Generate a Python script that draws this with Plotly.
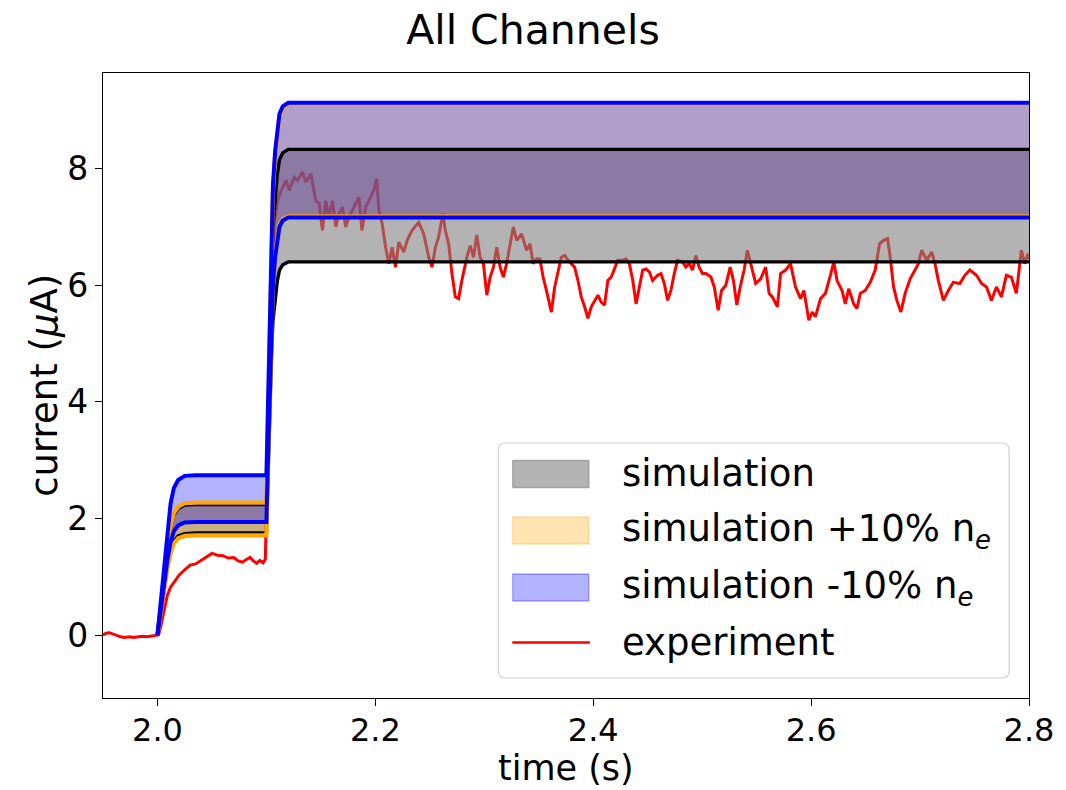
import plotly.graph_objects as go

# ---------------------------------------------------------------- data
# simulated channel current (uA) on a common time base (s)
t_sim = [2.000, 2.003, 2.006, 2.009, 2.012, 2.015, 2.019, 2.025, 2.035, 2.100,
         2.101, 2.102, 2.103, 2.104, 2.105, 2.106, 2.108, 2.110, 2.112, 2.115,
         2.120, 2.800]

sim_lo = [0.00, 0.385, 0.79, 1.155, 1.435, 1.61, 1.70, 1.74, 1.75, 1.75,
          2.45, 3.15, 3.80, 4.45, 5.00, 5.38, 5.80, 6.07, 6.26, 6.35, 6.40, 6.40]
sim_hi = [0.00, 0.49, 1.01, 1.48, 1.84, 2.06, 2.17, 2.23, 2.24, 2.24,
          3.15, 4.07, 4.92, 5.77, 6.50, 6.99, 7.54, 7.90, 8.15, 8.27, 8.33, 8.33]

plus_lo = [0.00, 0.38, 0.77, 1.13, 1.40, 1.57, 1.66, 1.70, 1.71, 1.71,
           2.53, 3.36, 4.13, 4.89, 5.55, 5.99, 6.49, 6.82, 7.03, 7.14, 7.18, 7.18]
plus_hi = [0.00, 0.50, 1.02, 1.50, 1.86, 2.09, 2.20, 2.26, 2.27, 2.27,
           3.30, 4.32, 5.28, 6.24, 7.06, 7.61, 8.22, 8.63, 8.90, 9.04, 9.11, 9.11]

minus_lo = [0.00, 0.43, 0.87, 1.28, 1.59, 1.78, 1.88, 1.93, 1.94, 1.94,
            2.72, 3.51, 4.24, 4.97, 5.59, 6.01, 6.48, 6.79, 7.00, 7.11, 7.16, 7.16]
minus_hi = [0.00, 0.60, 1.23, 1.81, 2.25, 2.52, 2.66, 2.73, 2.74, 2.74,
            3.70, 4.66, 5.55, 6.45, 7.21, 7.72, 8.30, 8.68, 8.94, 9.07, 9.13, 9.13]

# measured current (uA)
t_exp = [1.950, 1.953, 1.956, 1.959, 1.962, 1.966, 1.970, 1.974, 1.978, 1.982,
         1.986, 1.990, 1.994, 1.998, 2.001, 2.003, 2.006, 2.009, 2.012, 2.016,
         2.020, 2.025, 2.030, 2.035, 2.040, 2.045, 2.050, 2.055, 2.060, 2.065,
         2.070, 2.074, 2.078, 2.082, 2.085, 2.088, 2.091, 2.094, 2.097, 2.099,
         2.1005, 2.102, 2.1035, 2.105, 2.1073, 2.1103, 2.113, 2.1180, 2.1210, 2.1256,
         2.1286, 2.1331, 2.1362, 2.1408, 2.1454, 2.1484, 2.1514, 2.1545, 2.1575, 2.1606,
         2.1637, 2.1667, 2.1697, 2.1728, 2.1758, 2.1820, 2.1850, 2.1877, 2.1911, 2.1941,
         2.1987, 2.2012, 2.2033, 2.2063, 2.2094, 2.2124, 2.2154, 2.2185, 2.2215, 2.2261,
         2.2292, 2.2337, 2.2398, 2.2444, 2.2490, 2.2520, 2.2551, 2.2581, 2.2621, 2.2642,
         2.2673, 2.2703, 2.2734, 2.2764, 2.2794, 2.2840, 2.2871, 2.2901, 2.2931, 2.2962,
         2.2992, 2.3023, 2.3054, 2.3084, 2.3114, 2.3145, 2.3175, 2.3205, 2.3236, 2.3266,
         2.3297, 2.3342, 2.3388, 2.3419, 2.3449, 2.3479, 2.3510, 2.3540, 2.3570, 2.3601,
         2.3616, 2.3646, 2.3677, 2.3707, 2.3738, 2.3768, 2.3799, 2.3829, 2.3860, 2.3890,
         2.3921, 2.3951, 2.3982, 2.4012, 2.4043, 2.4073, 2.4104, 2.4134, 2.4165, 2.4195,
         2.4225, 2.4271, 2.4302, 2.4332, 2.4363, 2.4393, 2.4424, 2.4454, 2.4485, 2.4515,
         2.4545, 2.4591, 2.4622, 2.4652, 2.4683, 2.4713, 2.4744, 2.4774, 2.4820, 2.4850,
         2.4881, 2.4911, 2.4942, 2.4972, 2.5003, 2.5034, 2.5080, 2.5111, 2.5147, 2.5178,
         2.5217, 2.5257, 2.5287, 2.5318, 2.5349, 2.5385, 2.5415, 2.5446, 2.5491, 2.5537,
         2.5583, 2.5614, 2.5644, 2.5690, 2.5720, 2.5766, 2.5811, 2.5857, 2.5903, 2.5934,
         2.5979, 2.6010, 2.6040, 2.6086, 2.6131, 2.6177, 2.6208, 2.6238, 2.6284, 2.6314,
         2.6345, 2.6391, 2.6421, 2.6451, 2.6497, 2.6543, 2.6588, 2.6628, 2.6665, 2.6702,
         2.6726, 2.6757, 2.6787, 2.6824, 2.6863, 2.6909, 2.6954, 2.6985, 2.7015, 2.7061,
         2.7107, 2.7137, 2.7168, 2.7214, 2.7260, 2.7305, 2.7365, 2.7411, 2.7457, 2.7518,
         2.7564, 2.7610, 2.7655, 2.7701, 2.7747, 2.7792, 2.7838, 2.7884, 2.7930, 2.7960,
         2.7991, 2.8000]
i_exp = [0.00, 0.03, 0.04, 0.02, 0.00, -0.03, -0.04, -0.03, -0.04, -0.03,
         -0.02, -0.03, -0.02, -0.01, 0.00, 0.15, 0.45, 0.68, 0.82, 0.93,
         1.03, 1.12, 1.20, 1.22, 1.28, 1.35, 1.40, 1.37, 1.36, 1.32,
         1.33, 1.27, 1.25, 1.30, 1.33, 1.27, 1.23, 1.28, 1.24, 1.30,
         2.60, 4.20, 5.40, 6.30, 7.06, 7.45, 7.60, 7.80, 7.63, 7.85,
         7.80, 7.94, 7.77, 7.91, 7.45, 7.40, 6.94, 7.45, 7.17, 7.45,
         7.00, 7.23, 7.34, 7.00, 7.17, 7.40, 7.51, 6.94, 7.34, 7.45,
         7.63, 7.83, 7.28, 7.05, 6.65, 6.37, 6.65, 6.31, 6.74, 6.57,
         6.77, 6.94, 7.08, 6.88, 6.48, 6.31, 6.65, 6.83, 7.23, 6.94,
         6.71, 6.20, 5.80, 5.77, 6.08, 6.48, 6.68, 6.48, 6.86, 6.48,
         6.37, 5.83, 6.14, 6.31, 6.65, 6.31, 6.14, 6.37, 6.71, 7.00,
         6.77, 6.88, 6.60, 6.71, 6.37, 6.45, 6.45, 6.14, 5.91, 5.68,
         5.54, 5.97, 6.26, 6.48, 6.51, 6.43, 6.37, 6.31, 6.08, 5.80,
         5.63, 5.43, 5.63, 5.74, 5.83, 5.71, 5.66, 6.08, 6.14, 6.28,
         6.43, 6.43, 6.45, 6.37, 6.08, 5.68, 5.97, 6.26, 6.28, 6.23,
         6.08, 6.17, 6.20, 6.03, 5.74, 5.91, 6.20, 6.43, 6.40, 6.31,
         6.37, 6.26, 6.51, 6.31, 6.20, 6.20, 6.14, 5.97, 5.57, 5.91,
         6.00, 6.31, 6.08, 5.66, 5.97, 6.26, 6.60, 6.37, 6.03, 6.11,
         6.31, 5.86, 5.80, 5.63, 6.20, 6.26, 6.37, 5.97, 5.77, 5.91,
         5.40, 5.54, 5.46, 5.77, 5.86, 6.17, 6.40, 6.08, 5.91, 5.68,
         5.94, 5.68, 5.60, 5.86, 5.91, 6.05, 6.26, 6.71, 6.77, 6.80,
         6.48, 5.97, 5.74, 5.54, 5.86, 6.11, 6.28, 6.37, 6.60, 6.43,
         6.57, 6.37, 6.08, 5.74, 5.91, 6.05, 6.03, 6.17, 6.26, 6.17,
         6.03, 5.97, 5.74, 5.97, 5.80, 6.17, 6.14, 5.86, 6.60, 6.37,
         6.54, 6.45]

x_ticks = [2.0, 2.2, 2.4, 2.6, 2.8]
y_ticks = [0, 2, 4, 6, 8]

legend_labels = ["simulation",
                 "simulation +10% n<sub><i>e</i></sub>",
                 "simulation -10% n<sub><i>e</i></sub>",
                 "experiment"]

# ---------------------------------------------------------------- layout geometry
W, H = 1066, 790
L, R, T, B = 103, 1033, 73, 698          # plot-area edges in px
FONT = "DejaVu Sans"


def px_x(px):
    return (px - L) / (R - L)


def px_y(py):
    return (B - py) / (B - T)


fig = go.Figure()

# experiment underneath the shaded bands
fig.add_trace(go.Scatter(x=t_exp, y=i_exp, mode="lines",
                         line=dict(color="red", width=3),
                         showlegend=False, hoverinfo="skip"))

bands = [
    (sim_lo, sim_hi, "black", "rgba(128,128,128,0.6)", 3.4),
    (plus_lo, plus_hi, "orange", "rgba(255,165,0,0.3)", 4.2),
    (minus_lo, minus_hi, "blue", "rgba(0,0,255,0.3)", 4.0),
]

# shaded bands first ...
for lo, hi, edge, fill, lw in bands:
    fig.add_trace(go.Scatter(x=t_sim, y=lo, mode="lines", line=dict(width=0),
                             showlegend=False, hoverinfo="skip"))
    fig.add_trace(go.Scatter(x=t_sim, y=hi, mode="lines", fill="tonexty",
                             fillcolor=fill, line=dict(width=0),
                             showlegend=False, hoverinfo="skip"))

# ... then their edge curves on top
for lo, hi, edge, fill, lw in bands:
    for curve in (lo, hi):
        fig.add_trace(go.Scatter(x=t_sim, y=curve, mode="lines",
                                 line=dict(color=edge, width=lw),
                                 showlegend=False, hoverinfo="skip"))

axis_common = dict(showline=True, linecolor="black", linewidth=1.3, mirror=True,
                   ticks="outside", ticklen=7, tickwidth=1.3, tickcolor="black",
                   showgrid=False, zeroline=False)

fig.update_xaxes(range=[1.95, 2.8], tickvals=x_ticks,
                 ticktext=[f"{v:.1f}" for v in x_ticks], ticklabelstandoff=-4,
                 tickfont=dict(family=FONT, size=32, color="black"), **axis_common)
fig.update_yaxes(range=[-1.08, 9.64], tickvals=y_ticks,
                 ticktext=[str(v) for v in y_ticks],
                 tickfont=dict(family=FONT, size=33, color="black"), **axis_common)

# ---------------------------------------------------------------- legend (drawn)
shapes = []
annotations = []

x0, x1 = px_x(500), px_x(1013)
y0, y1 = px_y(678), px_y(443)
rx, ry = 7 / (R - L), 7 / (B - T)
path = (f"M {x0+rx},{y0} L {x1-rx},{y0} Q {x1},{y0} {x1},{y0+ry} "
        f"L {x1},{y1-ry} Q {x1},{y1} {x1-rx},{y1} L {x0+rx},{y1} "
        f"Q {x0},{y1} {x0},{y1-ry} L {x0},{y0+ry} Q {x0},{y0} {x0+rx},{y0} Z")
shapes.append(dict(type="path", xref="paper", yref="paper", path=path,
                   fillcolor="rgba(255,255,255,0.8)",
                   line=dict(color="#d0d0d0", width=1.2)))

patch_style = [
    ("rgba(128,128,128,0.6)", "rgba(128,128,128,0.6)"),
    ("rgba(255,165,0,0.3)", "rgba(255,165,0,0.3)"),
    ("rgba(0,0,255,0.3)", "rgba(0,0,255,0.3)"),
]
row_mid = [474, 530.5, 587.5, 642.5]
for k, (fc, ec) in enumerate(patch_style):
    cy = row_mid[k]
    shapes.append(dict(type="rect", xref="paper", yref="paper",
                       x0=px_x(514.5), x1=px_x(591), y0=px_y(cy + 13.5), y1=px_y(cy - 13.5),
                       fillcolor=fc, line=dict(color=ec, width=1.3)))
shapes.append(dict(type="line", xref="paper", yref="paper",
                   x0=px_x(514), x1=px_x(592), y0=px_y(row_mid[3]), y1=px_y(row_mid[3]),
                   line=dict(color="red", width=2.6)))

for k, label in enumerate(legend_labels):
    annotations.append(dict(x=px_x(622), y=px_y(row_mid[k]), xref="paper", yref="paper",
                            text=label, showarrow=False, xanchor="left", yanchor="middle",
                            font=dict(family=FONT, size=37, color="black")))

# axis titles
annotations.append(dict(x=0.5, y=px_y(790), xref="paper", yref="paper",
                        text="time (s)", showarrow=False, xanchor="center", yanchor="bottom",
                        font=dict(family=FONT, size=35, color="black")))
annotations.append(dict(x=px_x(44), y=0.5, xref="paper", yref="paper",
                        text="current (<i>μ</i>A)", showarrow=False, textangle=-90,
                        xanchor="center", yanchor="middle",
                        font=dict(family=FONT, size=37, color="black")))

fig.update_layout(
    width=W, height=H,
    margin=dict(l=L, r=W - R, t=T, b=H - B),
    paper_bgcolor="white", plot_bgcolor="white",
    title=dict(text="All Channels", x=0.5, xref="container", xanchor="center",
               y=1 - 30 / H, yref="container", yanchor="middle",
               font=dict(family=FONT, size=41, color="black")),
    shapes=shapes, annotations=annotations, showlegend=False,
)

fig.write_html("out.html")
